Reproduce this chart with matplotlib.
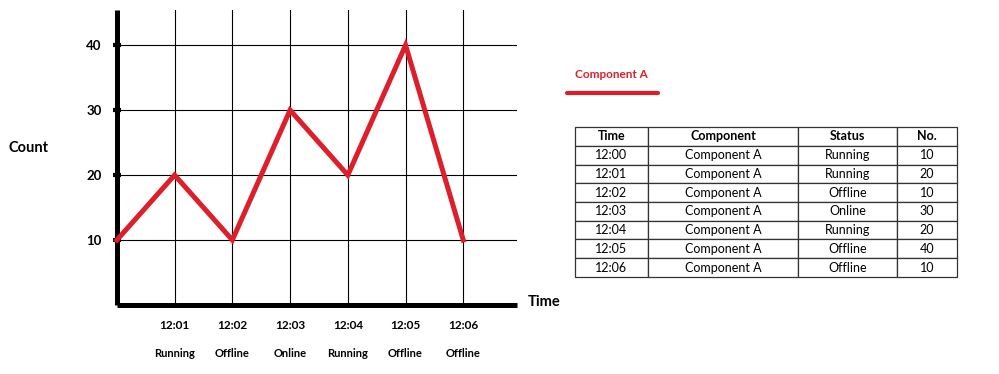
import matplotlib
matplotlib.use("Agg")
import matplotlib.pyplot as plt

plt.rcParams['font.family'] = ['Lato', 'DejaVu Sans']

# data
times = ['12:00', '12:01', '12:02', '12:03', '12:04', '12:05', '12:06']
components = ['Component A'] * 7
statuses = ['Running', 'Running', 'Offline', 'Online', 'Running', 'Offline', 'Offline']
counts = [10, 20, 10, 30, 20, 40, 10]
y_ticks = [10, 20, 30, 40]
table_header = ['Time', 'Component', 'Status', 'No.']

red = '#dc1f2b'

fig = plt.figure(figsize=(9.99, 3.74), dpi=100)
ax = fig.add_axes([0.117, 0.1845, 0.4005, 0.7885])

x = list(range(len(times)))
ax.plot(x, counts, color=red, lw=3.6, solid_joinstyle='miter', zorder=3, clip_on=False)

ax.set_xlim(0, 6.93)
ax.set_ylim(0, 45.4)

# grid
for xi in x[1:]:
    ax.axvline(xi, color='black', lw=0.8, zorder=1)
for yv in y_ticks:
    ax.axhline(yv, color='black', lw=0.8, zorder=1)

for s in ['top', 'right']:
    ax.spines[s].set_visible(False)
for s in ['left', 'bottom']:
    ax.spines[s].set_linewidth(3.6)
    ax.spines[s].set_capstyle('butt')

ax.set_yticks(y_ticks)
ax.set_yticklabels([str(v) for v in y_ticks], fontweight='bold', fontsize=9.5)
ax.tick_params(axis='y', direction='inout', length=6, width=3, pad=8)

ax.set_xticks(x[1:])
ax.set_xticklabels(times[1:], fontweight='bold', fontsize=8.5)
ax.tick_params(axis='x', length=0, pad=11)

for xi in x[1:]:
    ax.text(xi, -0.163, statuses[xi], transform=ax.get_xaxis_transform(),
            ha='center', va='center', fontweight='bold', fontsize=8)

fig.text(0.029, 1 - 148 / 374, 'Count', ha='center', va='center', fontweight='bold', fontsize=10.5)
fig.text(0.545, 1 - 302 / 374, 'Time', ha='center', va='center', fontweight='bold', fontsize=10.5)

# legend
fig.text(0.612, 1 - 75 / 374, 'Component A', color=red, ha='center', va='center',
         fontweight='bold', fontsize=8.5)
fig.add_artist(plt.Line2D([0.568, 0.659], [1 - 93 / 374] * 2, color=red, lw=3,
                          solid_capstyle='round', transform=fig.transFigure))

# table
tax = fig.add_axes([0.5756, 0.2594, 0.3824, 0.401])
tax.axis('off')
cells = [[times[i], components[i], statuses[i], str(counts[i])] for i in range(len(times))]
tbl = tax.table(cellText=cells, colLabels=table_header, cellLoc='center',
                colWidths=[73, 150, 99, 60], bbox=[0, 0, 1, 1])
tbl.auto_set_font_size(False)
for (r, c), cell in tbl.get_celld().items():
    cell.set_linewidth(0.9)
    cell.set_edgecolor('#333333')
    cell.get_text().set_fontsize(9)
    if r == 0:
        cell.get_text().set_fontweight('bold')

fig.savefig('out.png', dpi=100)
